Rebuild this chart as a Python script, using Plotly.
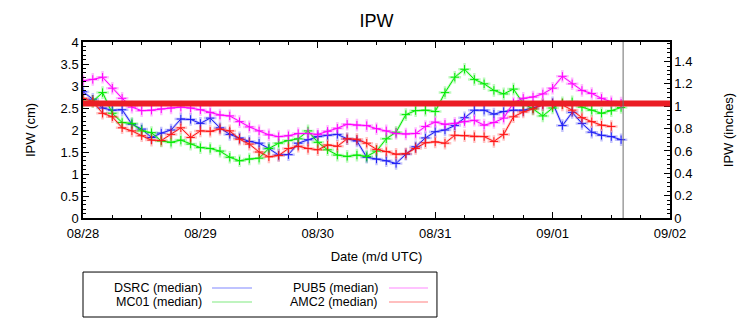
import pandas as pd
import plotly.graph_objects as go

# ---------------- data (IPW in cm, every 2 h starting 08/28 00 UTC) -------------
start_time = "2024-08-28 00:00"
step_hours = 2

dsrc = [2.87, 2.70, 2.50, 2.45, 2.46, 2.13, 2.02, 1.83, 1.93, 2.00, 2.25, 2.24,
        2.15, 2.27, 2.05, 1.90, 1.82, 1.74, 1.70, 1.58, 1.43, 1.44, 1.70, 1.78,
        1.85, 1.88, 1.90, 1.80, 1.75, 1.38, 1.34, 1.30, 1.24, 1.45, 1.62, 1.82,
        1.96, 2.00, 2.10, 2.28, 2.45, 2.45, 2.36, 2.42, 2.45, 2.45, 2.50, 2.58,
        2.62, 2.10, 2.40, 2.15, 1.95, 1.88, 1.85, 1.78]
mc01 = [2.65, 2.65, 2.85, 2.38, 2.17, 2.15, 1.98, 1.94, 1.75, 1.72, 1.77, 1.68,
        1.60, 1.58, 1.52, 1.38, 1.30, 1.34, 1.36, 1.58, 1.70, 1.76, 1.80, 1.98,
        1.72, 1.55, 1.43, 1.40, 1.43, 1.40, 1.52, 1.80, 1.95, 2.35, 2.44, 2.45,
        2.42, 2.85, 3.20, 3.38, 3.15, 3.05, 2.90, 2.82, 2.93, 2.60, 2.48, 2.32,
        2.50, 2.62, 2.64, 2.52, 2.45, 2.38, 2.44, 2.51]
pub5 = [3.12, 3.15, 3.20, 2.95, 2.72, 2.52, 2.44, 2.45, 2.48, 2.50, 2.52, 2.50,
        2.46, 2.40, 2.34, 2.32, 2.19, 2.07, 1.98, 1.89, 1.85, 1.87, 1.92, 1.92,
        1.90, 1.97, 2.04, 2.13, 2.11, 2.10, 2.03, 1.98, 1.92, 1.91, 1.92, 2.08,
        2.18, 2.13, 2.15, 2.19, 2.22, 2.11, 2.17, 2.27, 2.62, 2.72, 2.75, 2.82,
        2.95, 3.22, 3.05, 2.90, 2.83, 2.72, 2.64, 2.61]
amc2 = [2.72, 2.65, 2.38, 2.30, 2.05, 1.98, 1.87, 1.77, 1.76, 1.90, 2.05, 1.83,
        1.98, 1.97, 2.02, 1.98, 1.79, 1.68, 1.50, 1.39, 1.42, 1.58, 1.63, 1.58,
        1.55, 1.66, 1.63, 1.80, 1.79, 1.70, 1.56, 1.51, 1.45, 1.46, 1.58, 1.71,
        1.73, 1.70, 1.88, 1.87, 1.85, 1.85, 1.74, 1.90, 2.30, 2.41, 2.48, 2.57,
        2.58, 2.57, 2.45, 2.28, 2.19, 2.11, 2.08]

series_names = ["DSRC (median)", "MC01 (median)", "PUB5 (median)", "AMC2 (median)"]
series_values = [dsrc, mc01, pub5, amc2]
series_colors = ["rgb(30,30,245)", "rgb(0,235,0)", "rgb(255,0,255)", "rgb(255,20,20)"]
legend_colors = ["rgb(170,175,255)", "rgb(170,240,170)", "rgb(255,175,255)", "rgb(255,170,170)"]

threshold_cm = 2.6
now_time = "2024-09-01 14:25"
x_range = ["2024-08-28", "2024-09-02"]
y_range_cm = [0, 4]
cm_per_inch = 2.54

FONT = "Liberation Sans, Arial, sans-serif"

fig = go.Figure()

for name, vals, col in zip(series_names, series_values, series_colors):
    t = pd.date_range(start_time, periods=len(vals), freq=f"{step_hours}h")
    # light halo
    fig.add_trace(go.Scatter(
        x=t, y=vals, mode="lines+markers", showlegend=False, hoverinfo="skip",
        opacity=0.25,
        line=dict(color=col, width=2.5),
        marker=dict(symbol="cross-thin", size=9, line=dict(color=col, width=2.5)),
    ))
    fig.add_trace(go.Scatter(
        x=t, y=vals, mode="lines+markers", name=name, showlegend=False,
        line=dict(color=col, width=1),
        marker=dict(symbol="cross-thin", size=6, line=dict(color=col, width=1)),
    ))

# dummy trace to activate right axis
fig.add_trace(go.Scatter(x=[x_range[0]], y=[0], yaxis="y2", mode="markers",
                         marker=dict(opacity=0), showlegend=False, hoverinfo="skip"))

# threshold line and "now" marker
fig.add_shape(type="line", xref="paper", x0=0, x1=1, yref="y", y0=threshold_cm, y1=threshold_cm,
              line=dict(color="rgb(235,28,36)", width=6), layer="above")
fig.add_shape(type="line", xref="x", x0=now_time, x1=now_time, yref="paper", y0=0, y1=1,
              line=dict(color="rgb(110,110,110)", width=1), layer="above")

# manual legend (gnuplot style: text then sample)
fig.add_shape(type="rect", xref="paper", yref="paper", x0=0, x1=0.603, y0=-0.5625, y1=-0.307,
              line=dict(color="black", width=1), fillcolor="white", layer="below")
legend_pos = [(0.2044, 0.2198, 0.2879, -0.398), (0.2044, 0.2198, 0.2879, -0.477),
              (0.5043, 0.5213, 0.5877, -0.398), (0.5043, 0.5213, 0.5877, -0.477)]
for (tx, lx0, lx1, ly), name, lc in zip(legend_pos, series_names, legend_colors):
    fig.add_annotation(xref="paper", yref="paper", x=tx, y=ly, text=name, showarrow=False,
                       xanchor="right", yanchor="middle", borderpad=0,
                       font=dict(family=FONT, size=12.5, color="black"))
    fig.add_shape(type="line", xref="paper", yref="paper", x0=lx0, x1=lx1, y0=ly, y1=ly,
                  line=dict(color=lc, width=1.5))

fig.update_layout(
    width=756, height=324,
    margin=dict(l=83, r=86, t=42, b=106),
    paper_bgcolor="white", plot_bgcolor="white",
    font=dict(family=FONT, size=13, color="black"),
    title=dict(text="IPW", x=0.5, xanchor="center", y=0.935, yanchor="middle",
               xref="paper", font=dict(family=FONT, size=18, color="black")),
    showlegend=False,
    xaxis=dict(
        range=x_range, type="date", tickformat="%m/%d", dtick=86400000,
        tick0="2024-08-28",
        ticks="inside", ticklen=6, tickcolor="black", tickwidth=1,
        minor=dict(dtick=6 * 3600 * 1000, ticks="inside", ticklen=3, tickcolor="black"),
        showline=True, linecolor="black", linewidth=1.5, mirror="ticks",
        showgrid=False, zeroline=False, ticklabelstandoff=3,
        title=dict(text="Date (m/d UTC)", standoff=12, font=dict(size=13)),
        tickfont=dict(size=13),
    ),
    yaxis=dict(
        range=y_range_cm, dtick=0.5, tick0=0,
        ticks="inside", ticklen=6, tickcolor="black",
        minor=dict(dtick=0.1, ticks="inside", ticklen=3, tickcolor="black"),
        showline=True, linecolor="black", linewidth=1.5,
        showgrid=False, zeroline=False,
        title=dict(text="IPW (cm)", standoff=22, font=dict(size=13)),
        tickfont=dict(size=13),
    ),
    yaxis2=dict(
        range=[y_range_cm[0] / cm_per_inch, y_range_cm[1] / cm_per_inch],
        overlaying="y", side="right", dtick=0.2, tick0=0,
        ticks="inside", ticklen=6, tickcolor="black",
        minor=dict(dtick=0.04, ticks="inside", ticklen=3, tickcolor="black"),
        showline=True, linecolor="black", linewidth=1.5,
        showgrid=False, zeroline=False,
        title=dict(text="IPW (inches)", standoff=32, font=dict(size=13)),
        tickfont=dict(size=13),
    ),
)

fig.write_html("out.html")
